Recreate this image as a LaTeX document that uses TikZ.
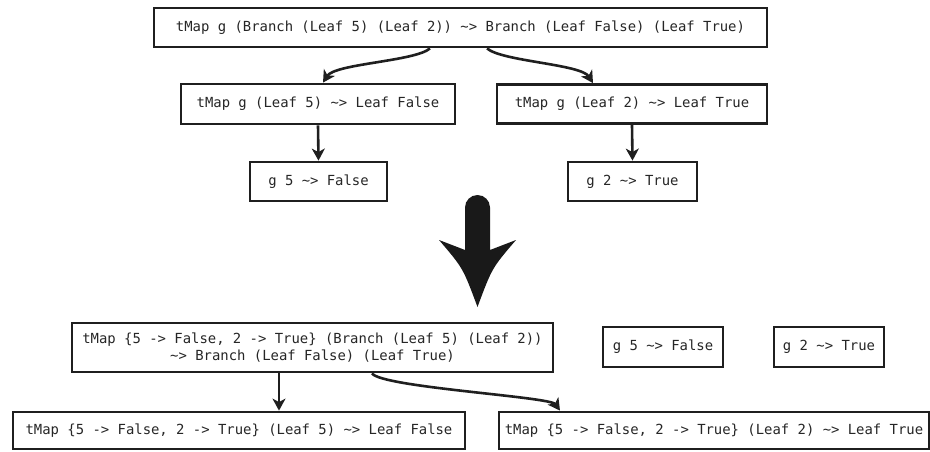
\documentclass[tikz,border=0pt]{standalone}
\usepackage{fontspec}
\setmonofont{DejaVu Sans Mono}
\usetikzlibrary{arrows.meta}
\begin{document}
\begin{tikzpicture}[x=1pt,y=-1pt,
  box/.style={draw=black!88, line width=2.8pt, inner sep=0pt, align=center,
    text=black!85, font=\ttfamily\fontsize{13.9}{17}\selectfont, fill=white},
  arr/.style={draw=black!88, line width=2.6pt,
    -{Stealth[length=12pt,width=13pt,inset=3.5pt]}}]
\useasboundingbox (0,0) rectangle (930,452);
\fill[white] (0,0) rectangle (930,452);

\node[box, minimum width=613pt, minimum height=39pt] (top) at (460.5,27.5)
  {tMap g (Branch (Leaf 5) (Leaf 2)) \textasciitilde> Branch (Leaf False) (Leaf True)};
\node[box, minimum width=274pt, minimum height=40pt] (ml) at (318,104)
  {tMap g (Leaf 5) \textasciitilde> Leaf False};
\node[box, minimum width=270pt, minimum height=39pt] (mr) at (632,104)
  {tMap g (Leaf 2) \textasciitilde> Leaf True};
\node[box, minimum width=137pt, minimum height=39pt] (ll) at (318.5,181.5)
  {g 5 \textasciitilde> False};
\node[box, minimum width=129pt, minimum height=39pt] (lr) at (632.5,181.5)
  {g 2 \textasciitilde> True};

\node[box, minimum width=481pt, minimum height=49pt] (big) at (312.5,347.5)
  {tMap \{5 -> False, 2 -> True\} (Branch (Leaf 5) (Leaf 2))\\
   \textasciitilde> Branch (Leaf False) (Leaf True)};
\node[box, minimum width=120pt, minimum height=40pt] (g5) at (663,347)
  {g 5 \textasciitilde> False};
\node[box, minimum width=110pt, minimum height=40pt] (g2) at (829,347)
  {g 2 \textasciitilde> True};
\node[box, minimum width=452pt, minimum height=37pt] (bl) at (239,430.5)
  {tMap \{5 -> False, 2 -> True\} (Leaf 5) \textasciitilde> Leaf False};
\node[box, minimum width=430pt, minimum height=37pt] (br) at (714,430.5)
  {tMap \{5 -> False, 2 -> True\} (Leaf 2) \textasciitilde> Leaf True};

% connectors
\draw[arr] ([xshift=-30.5pt]top.south) .. controls +(-15,13) and +(12,-19) .. ([xshift=5pt]ml.north);
\draw[arr] ([xshift=26.5pt]top.south) .. controls +(15,13) and +(-12,-19) .. ([xshift=-39pt]mr.north);
\draw[arr] (ml.south) -- (ll.north);
\draw[arr] (mr.south) -- (lr.north);
\draw[arr] ([xshift=-33.5pt]big.south) -- ([xshift=-33.5pt]big.south |- bl.north);
\draw[arr] ([xshift=59.5pt]big.south) .. controls +(10,14) and +(-10,-14) .. ([xshift=-154pt]br.north);

% big arrow
\fill[black!90] (465,207.5) arc[start angle=180, end angle=360, radius=12.5]
  -- (490,250) -- (516,240) .. controls (492,268) .. (477.5,307)
  .. controls (463,268) .. (439,240) -- (465,250) -- cycle;
\end{tikzpicture}
\end{document}
